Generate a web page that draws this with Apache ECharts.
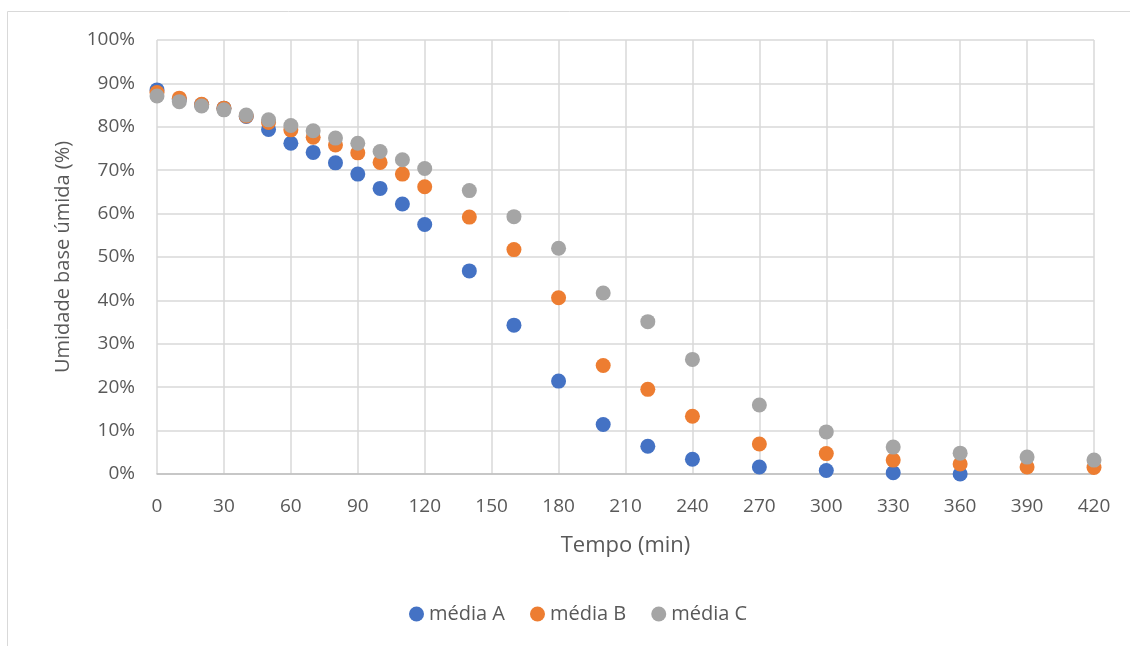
<!DOCTYPE html>
<html><head><meta charset="utf-8">
<script src="https://cdn.jsdelivr.net/npm/echarts@6/dist/echarts.min.js"></script>
<style>html,body{margin:0;padding:0;background:#fff}#c{width:1130px;height:646px}</style>
</head><body><div id="c"></div>
<script>
const tempoA = [0,10,20,30,40,50,60,70,80,90,100,110,120,140,160,180,200,220,240,270,300,330,360];
const mediaA = [88.5,86.3,85.1,84.3,82.4,79.4,76.2,74.1,71.7,69.1,65.8,62.2,57.5,46.8,34.3,21.4,11.4,6.4,3.4,1.6,0.8,0.3,0.0];
const tempoBC = [0,10,20,30,40,50,60,70,80,90,100,110,120,140,160,180,200,220,240,270,300,330,360,390,420];
const mediaB = [87.9,86.6,85.2,84.3,82.5,81.0,79.3,77.6,75.8,74.0,71.8,69.1,66.2,59.2,51.7,40.6,25.0,19.5,13.3,6.9,4.7,3.2,2.3,1.6,1.5];
const mediaC = [87.1,85.8,84.8,83.9,82.7,81.6,80.3,79.1,77.4,76.2,74.3,72.4,70.4,65.3,59.3,52.0,41.7,35.1,26.4,15.9,9.7,6.2,4.8,3.9,3.2];
const seriesNames = ['média A','média B','média C'];
const colors = ['#4472C4','#ED7D31','#A5A5A5'];

const pair = (xs, ys) => xs.map((x,i)=>[x, ys[i]/100]);
const font = '"Open Sans", sans-serif';
const chart = echarts.init(document.getElementById('c'));
chart.setOption({
  animation:false,
  color: colors,
  graphic:[{type:'rect', shape:{x:7.5,y:11.5,width:1140,height:700}, style:{fill:'none', stroke:'#D9D9D9', lineWidth:1}, silent:true}],
  grid:{left:157,right:36,top:40,bottom:172},
  xAxis:{type:'value',min:0,max:420,interval:30,
    name:'Tempo (min)',nameLocation:'middle',nameGap:61,
    nameTextStyle:{color:'#595959',fontSize:22,fontFamily:font},
    axisLine:{show:true,lineStyle:{color:'#BFBFBF',width:1.5}},
    axisTick:{show:false},
    axisLabel:{color:'#595959',fontSize:19,fontFamily:font,margin:23},
    splitLine:{show:true,lineStyle:{color:'#D9D9D9',width:1.5}}},
  yAxis:{type:'value',min:0,max:1,interval:0.1,
    name:'Umidade base úmida (%)',nameLocation:'middle',nameGap:84,
    nameTextStyle:{color:'#595959',fontSize:20,fontFamily:font},
    axisLine:{show:false},axisTick:{show:false},
    axisLabel:{color:'#595959',fontSize:19,fontFamily:font,margin:22,
      formatter:v=>Math.round(v*100)+'%'},
    splitLine:{show:true,lineStyle:{color:'#D9D9D9',width:1.5}}},
  legend:{top:599,left:404,itemWidth:15,itemHeight:15,itemGap:25,icon:'circle',
    textStyle:{color:'#595959',fontSize:20,fontFamily:font},
    data:seriesNames},
  series:[
    {name:seriesNames[0],type:'scatter',symbolSize:15,itemStyle:{opacity:1},data:pair(tempoA,mediaA),z:2},
    {name:seriesNames[1],type:'scatter',symbolSize:15,itemStyle:{opacity:1},data:pair(tempoBC,mediaB),z:3},
    {name:seriesNames[2],type:'scatter',symbolSize:15,itemStyle:{opacity:1},data:pair(tempoBC,mediaC),z:4}
  ]
});
</script></body></html>
